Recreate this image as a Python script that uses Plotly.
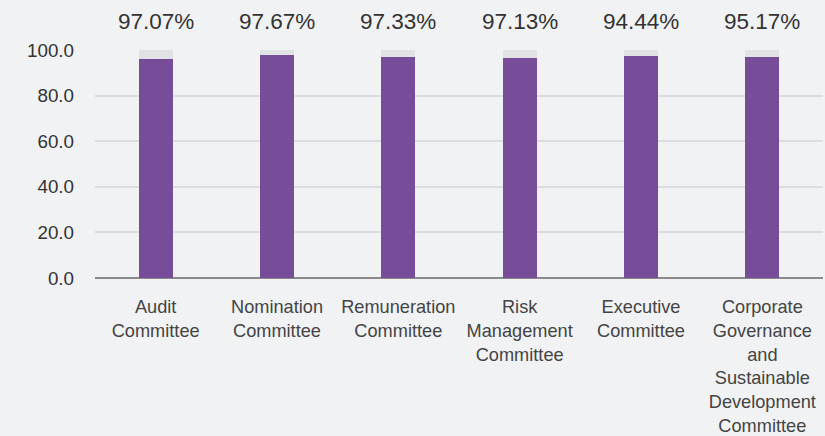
import plotly.graph_objects as go

categories = [
    "Audit<br>Committee",
    "Nomination<br>Committee",
    "Remuneration<br>Committee",
    "Risk<br>Management<br>Committee",
    "Executive<br>Committee",
    "Corporate<br>Governance<br>and<br>Sustainable<br>Development<br>Committee",
]
attendance = [96.0, 97.8, 96.9, 96.5, 97.4, 96.9]
full_scale = [100, 100, 100, 100, 100, 100]
rate_labels = ["97.07%", "97.67%", "97.33%", "97.13%", "94.44%", "95.17%"]
y_ticks = [0, 20, 40, 60, 80, 100]

FONT = "Liberation Sans, Arial, Helvetica, sans-serif"
BG = "#f1f2f4"

fig = go.Figure()
fig.add_trace(go.Bar(x=categories, y=full_scale, width=0.28,
                     marker=dict(color="#e0e2e6", line=dict(width=0)),
                     hoverinfo="skip", showlegend=False))
fig.add_trace(go.Bar(x=categories, y=attendance, width=0.28,
                     marker=dict(color="#774c98", line=dict(width=0)),
                     showlegend=False))

for c, t in zip(categories, rate_labels):
    fig.add_annotation(x=c, y=100, xref="x", yref="y", text=t, showarrow=False,
                       yanchor="middle", yshift=29,
                       font=dict(family=FONT, size=22.5, color="#333333"))

fig.update_layout(
    barmode="overlay",
    width=825, height=436,
    margin=dict(l=95, r=1.5, t=50, b=158),
    paper_bgcolor=BG, plot_bgcolor=BG,
    font=dict(family=FONT, color="#444444"),
    bargap=0,
)
fig.update_xaxes(
    showgrid=False, showline=False, zeroline=False, ticks="",
    tickfont=dict(family=FONT, size=18.2, color="#444444"),
    ticklabelstandoff=16,
)
fig.update_yaxes(
    range=[0, 100], tickvals=y_ticks, tickformat=".1f",
    showgrid=True, gridcolor="#dcdde0", gridwidth=2,
    zeroline=True, zerolinecolor="#8a8a8a", zerolinewidth=2,
    showline=False, ticks="",
    tickfont=dict(family=FONT, size=18.8, color="#333333"),
    ticklabelstandoff=20,
)

fig.write_html(
    "out.html",
    config={"displayModeBar": False},
    post_script="document.body.style.margin='0';document.body.style.padding='0';"
                "document.body.style.background='#f1f2f4';"
                "document.documentElement.style.background='#f1f2f4';"
                "document.body.style.overflow='hidden';",
)
